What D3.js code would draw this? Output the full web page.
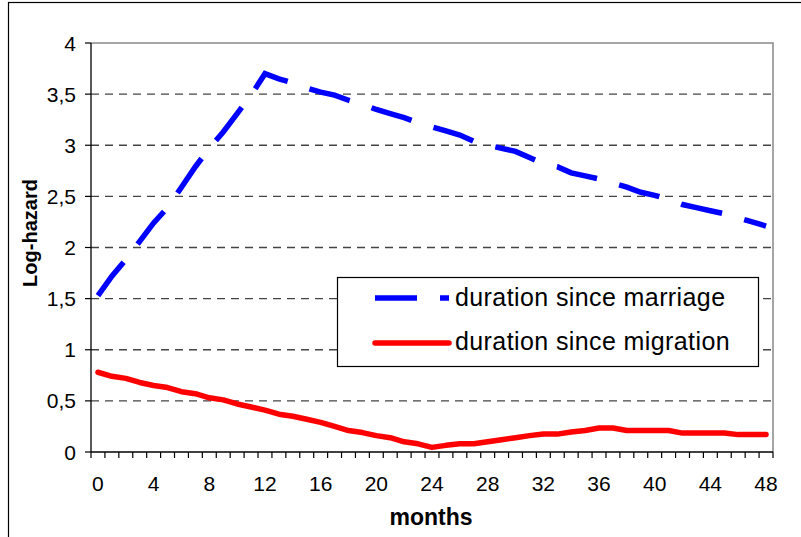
<!DOCTYPE html>
<html>
<head>
<meta charset="utf-8">
<script src="https://cdn.jsdelivr.net/npm/d3@7"></script>
<style>
  body { margin: 0; background: #fff; }
  svg { display: block; font-family: "Liberation Sans", Arial, sans-serif; }
</style>
</head>
<body>
<svg id="chart" width="801" height="537"></svg>
<script>
// months 0..48
var months = [0,1,2,3,4,5,6,7,8,9,10,11,12,13,14,15,16,17,18,19,20,21,22,23,24,
  25,26,27,28,29,30,31,32,33,34,35,36,37,38,39,40,41,42,43,44,45,46,47,48]

var marriage = [1.53,1.72,1.88,2.06,2.24,2.39,2.59,2.79,2.97,3.13,3.31,3.49,3.70,
  3.65,3.61,3.56,3.52,3.49,3.44,3.40,3.35,3.31,3.27,3.22,3.18,3.14,3.10,3.04,3.00,
  2.97,2.94,2.88,2.82,2.79,2.73,2.70,2.67,2.63,2.59,2.54,2.51,2.47,2.42,2.39,2.36,
  2.33,2.29,2.25,2.21]

var migration = [0.78,0.74,0.72,0.68,0.65,0.63,0.59,0.57,0.53,0.51,0.47,0.44,0.41,
  0.37,0.35,0.32,0.29,0.25,0.21,0.19,0.16,0.14,0.10,0.08,0.045,0.065,0.08,0.08,0.10,
  0.12,0.14,0.16,0.175,0.175,0.195,0.21,0.235,0.235,0.21,0.21,0.21,0.21,0.185,0.185,
  0.185,0.185,0.17,0.17,0.17]

var xTickLabels = [0,4,8,12,16,20,24,28,32,36,40,44,48]
var yTicks = [0,0.5,1,1.5,2,2.5,3,3.5,4]
var yTickLabels = ["0","0,5","1","1,5","2","2,5","3","3,5","4"]
var seriesNames = ["duration since marriage", "duration since migration"]

var dims = {
  width: 801,
  height: 537,
  margin: { top: 43, right: 28, bottom: 85, left: 91 }
}

var svg = d3.select("#chart")

// outer frame (right / bottom edges fall outside the picture)
svg.append("rect")
  .attr("x", 8.5).attr("y", 2.5)
  .attr("width", 820).attr("height", 560)
  .attr("fill", "none").attr("stroke", "#000").attr("stroke-width", 1.2)

var x0 = dims.margin.left
var x1 = dims.width - dims.margin.right
var y0 = dims.height - dims.margin.bottom
var y1 = dims.margin.top

var xScale = d3.scaleBand()
  .domain(months)
  .range([x0, x1])
var yScale = d3.scaleLinear()
  .domain([0, 4])
  .range([y0, y1])

function cx(m) { return xScale(m) + xScale.bandwidth() / 2 }

// gridlines
svg.append("g").selectAll("line")
  .data(yTicks.filter(d => d > 0 && d < 4))
  .enter().append("line")
  .attr("x1", x0).attr("x2", x1)
  .attr("y1", d => yScale(d)).attr("y2", d => yScale(d))
  .attr("stroke", "#444").attr("stroke-width", 1.3)
  .attr("stroke-dasharray", "8,6")

// plot area top / right border
svg.append("path")
  .attr("d", "M" + x0 + "," + y1 + "H" + x1 + "V" + y0)
  .attr("fill", "none").attr("stroke", "#888").attr("stroke-width", 1.5)

// y axis
var yAxis = svg.append("g")
yAxis.append("line")
  .attr("x1", x0).attr("x2", x0).attr("y1", y1).attr("y2", y0)
  .attr("stroke", "#000").attr("stroke-width", 1.3)
yAxis.selectAll(".tick").data(yTicks).enter().append("line")
  .attr("x1", x0 - 6).attr("x2", x0)
  .attr("y1", d => yScale(d)).attr("y2", d => yScale(d))
  .attr("stroke", "#000").attr("stroke-width", 1.2)
yAxis.selectAll("text").data(yTicks).enter().append("text")
  .attr("x", 76).attr("y", d => yScale(d) + 7.5)
  .attr("text-anchor", "end")
  .attr("font-size", 21)
  .text((d, i) => yTickLabels[i])

// x axis
var xAxis = svg.append("g")
xAxis.append("line")
  .attr("x1", x0).attr("x2", x1).attr("y1", y0).attr("y2", y0)
  .attr("stroke", "#000").attr("stroke-width", 1.3)
xAxis.selectAll(".tick").data(months.concat([49])).enter().append("line")
  .attr("x1", d => x0 + d * xScale.step()).attr("x2", d => x0 + d * xScale.step())
  .attr("y1", y0).attr("y2", y0 + 6)
  .attr("stroke", "#000").attr("stroke-width", 1.2)
xAxis.selectAll("text").data(xTickLabels).enter().append("text")
  .attr("x", d => cx(d)).attr("y", 491)
  .attr("text-anchor", "middle")
  .attr("font-size", 21)
  .text(d => d)

// axis titles
svg.append("text")
  .attr("x", 431).attr("y", 525)
  .attr("text-anchor", "middle")
  .attr("font-size", 23).attr("font-weight", "bold")
  .text("months")
svg.append("text")
  .attr("transform", "translate(37,233) rotate(-90)")
  .attr("text-anchor", "middle")
  .attr("font-size", 20).attr("font-weight", "bold")
  .text("Log-hazard")

// lines
var line = d3.line()
  .x((d, i) => cx(months[i]))
  .y(d => yScale(d))

svg.append("path")
  .datum(migration)
  .attr("d", line)
  .attr("fill", "none").attr("stroke", "#ff0000")
  .attr("stroke-width", 5.5).attr("stroke-linecap", "round").attr("stroke-linejoin", "round")

svg.append("path")
  .datum(marriage)
  .attr("d", line)
  .attr("fill", "none").attr("stroke", "#0000ff")
  .attr("stroke-width", 5.5).attr("stroke-dasharray", "42,23")

// legend
var legend = svg.append("g")
legend.append("rect")
  .attr("x", 337.5).attr("y", 277.5)
  .attr("width", 421).attr("height", 89)
  .attr("fill", "#fff").attr("stroke", "#000").attr("stroke-width", 1.2)
legend.append("line")
  .attr("x1", 375).attr("x2", 449).attr("y1", 298).attr("y2", 298)
  .attr("stroke", "#0000ff").attr("stroke-width", 5.5).attr("stroke-dasharray", "42,23")
legend.append("line")
  .attr("x1", 375).attr("x2", 449).attr("y1", 343).attr("y2", 343)
  .attr("stroke", "#ff0000").attr("stroke-width", 5.5).attr("stroke-linecap", "round")
legend.selectAll("text").data(seriesNames).enter().append("text")
  .attr("x", 455).attr("y", (d, i) => 306 + i * 44)
  .attr("font-size", 25)
  .attr("letter-spacing", 0.4)
  .text(d => d)
</script>
</body>
</html>
